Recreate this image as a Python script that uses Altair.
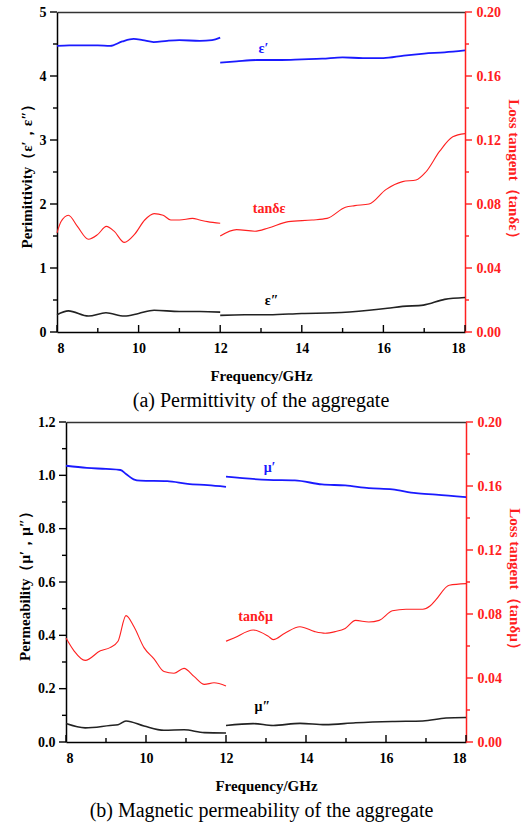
import altair as alt
import pandas as pd

# ---------------- data ----------------
# Panel (a) permittivity
eps1_f_s1 = [8.0, 8.3, 8.7, 9.0, 9.3, 9.6, 9.88, 10.1, 10.37, 10.7, 11.0, 11.5, 11.8, 12.0]
eps1_v_s1 = [4.47, 4.48, 4.48, 4.48, 4.47, 4.54, 4.58, 4.56, 4.53, 4.55, 4.56, 4.55, 4.56, 4.60]
eps1_f_s2 = [12.0, 12.4, 12.9, 13.5, 14.0, 14.5, 15.0, 15.5, 16.0, 16.5, 17.0, 17.5, 18.0]
eps1_v_s2 = [4.21, 4.23, 4.25, 4.25, 4.26, 4.27, 4.29, 4.28, 4.28, 4.32, 4.35, 4.37, 4.40]

eps2_f_s1 = [8.0, 8.28, 8.77, 9.2, 9.65, 10.0, 10.38, 11.0, 11.5, 12.0]
eps2_v_s1 = [0.27, 0.33, 0.25, 0.30, 0.25, 0.29, 0.34, 0.32, 0.32, 0.31]
eps2_f_s2 = [12.0, 12.6, 13.2, 14.0, 14.8, 15.65, 16.1, 16.47, 16.98, 17.5, 18.0]
eps2_v_s2 = [0.26, 0.27, 0.27, 0.29, 0.30, 0.34, 0.37, 0.40, 0.42, 0.51, 0.54]

tane_f_s1 = [8.0, 8.1, 8.28, 8.5, 8.77, 9.0, 9.21, 9.4, 9.65, 9.9, 10.15, 10.38, 10.6, 10.79, 11.0, 11.32, 11.5, 11.69, 12.0]
tane_v_s1 = [0.062, 0.069, 0.073, 0.066, 0.058, 0.061, 0.066, 0.063, 0.056, 0.061, 0.070, 0.074, 0.073, 0.070, 0.070, 0.071, 0.070, 0.069, 0.068]
tane_f_s2 = [12.0, 12.4, 12.85, 13.18, 13.67, 14.25, 14.62, 15.07, 15.3, 15.65, 16.06, 16.47, 16.8, 17.04, 17.38, 17.7, 18.0]
tane_v_s2 = [0.060, 0.064, 0.063, 0.065, 0.069, 0.070, 0.071, 0.078, 0.079, 0.080, 0.089, 0.094, 0.095, 0.100, 0.113, 0.122, 0.124]

# Panel (b) permeability
mu1_f_s1 = [8.0, 8.52, 9.0, 9.36, 9.5, 9.69, 9.86, 10.53, 11.04, 11.54, 12.0]
mu1_v_s1 = [1.036, 1.028, 1.024, 1.020, 1.005, 0.985, 0.980, 0.978, 0.968, 0.963, 0.957]
mu1_f_s2 = [12.0, 13.05, 13.72, 14.4, 14.98, 15.57, 16.16, 16.75, 17.25, 18.0]
mu1_v_s2 = [0.995, 0.983, 0.981, 0.966, 0.962, 0.952, 0.947, 0.933, 0.928, 0.918]

mu2_f_s1 = [8.0, 8.48, 9.1, 9.3, 9.5, 9.95, 10.45, 10.95, 11.46, 12.0]
mu2_v_s1 = [0.069, 0.053, 0.062, 0.065, 0.079, 0.060, 0.044, 0.046, 0.035, 0.034]
mu2_f_s2 = [12.0, 12.68, 13.18, 13.85, 14.48, 15.24, 16.16, 16.92, 17.5, 18.0]
mu2_v_s2 = [0.062, 0.069, 0.062, 0.070, 0.065, 0.072, 0.077, 0.079, 0.090, 0.092]

tanm_f_s1 = [8.0, 8.2, 8.48, 8.86, 9.1, 9.3, 9.5, 9.7, 9.95, 10.2, 10.45, 10.7, 10.95, 11.2, 11.46, 11.7, 12.0]
tanm_v_s1 = [0.065, 0.057, 0.051, 0.057, 0.059, 0.063, 0.079, 0.072, 0.059, 0.052, 0.044, 0.043, 0.046, 0.041, 0.036, 0.037, 0.035]
tanm_f_s2 = [12.0, 12.2, 12.68, 13.06, 13.18, 13.47, 13.85, 14.22, 14.48, 14.73, 14.98, 15.24, 15.57, 15.83, 16.16, 16.5, 16.92, 17.1, 17.25, 17.58, 18.0]
tanm_v_s2 = [0.063, 0.065, 0.070, 0.066, 0.064, 0.068, 0.072, 0.069, 0.068, 0.069, 0.071, 0.076, 0.075, 0.076, 0.082, 0.083, 0.083, 0.085, 0.089, 0.098, 0.099]

# curve labels: text, frequency, value, colour
labels_a_left = [("ε′", 13.06, 4.42, "#1a1aff"), ("ε″", 13.26, 0.48, "black")]
labels_a_right = [("tanδε", 13.2, 0.077, "#ff2020")]
labels_b_left = [("μ′", 13.09, 1.027, "#1a1aff"), ("μ″", 12.91, 0.133, "black")]
labels_b_right = [("tanδμ", 12.74, 0.078, "#ff2020")]

x_ticks = list(range(8, 19))
left_a_ticks = [i * 0.5 for i in range(11)]
left_b_ticks = [round(i * 0.1, 1) for i in range(13)]
right_ticks = [round(i * 0.02, 2) for i in range(11)]

SERIF = "Liberation Serif"
BLUE = "#1a1aff"
RED = "#ff2020"
H = 320
MAJOR, MINOR = 7, 4      # tick lengths in pixels


def seg_df(f1, v1, f2, v2):
    a = pd.DataFrame({"f": f1, "v": v1, "seg": 1})
    b = pd.DataFrame({"f": f2, "v": v2, "seg": 2})
    return pd.concat([a, b], ignore_index=True)


def lab_df(items):
    return pd.DataFrame(items, columns=["t", "f", "v", "c"])


def tick_len(i):
    return MINOR if i % 2 == 1 else MAJOR


def panel(width, inset, left_dom, left_ticks, left_fmt, left_title,
          d1, d2, dt, lab_l, lab_r, right_title, caption):
    xs = alt.Scale(domain=[8, 18], nice=False, range=[inset, width])
    ly = alt.Scale(domain=left_dom, nice=False, zero=False)
    ry = alt.Scale(domain=[0, 0.2], nice=False, zero=False)
    px_per_ghz = (width - inset) / 10.0
    px_per_left = H / (left_dom[1] - left_dom[0])

    x_bottom = alt.X("f:Q", scale=xs, axis=alt.Axis(
        values=x_ticks, labelExpr="datum.value % 2 == 0 ? datum.value : ''",
        ticks=False, title="Frequency/GHz", titlePadding=13, labelPadding=9,
        domainColor="black", domainWidth=1.5))
    x_plain = alt.X("f:Q", scale=xs, axis=None)
    x_top = alt.X("f:Q", scale=xs, axis=alt.Axis(
        orient="top", labels=False, ticks=False, title=None, domain=True,
        domainColor="#333333", domainWidth=1.5))

    major_vals = [v for i, v in enumerate(left_ticks) if i % 2 == 0]
    left_axis = alt.Axis(
        values=left_ticks, offset=-inset, ticks=False,
        labelExpr=f"indexof({major_vals}, datum.value) >= 0 ? format(datum.value, '{left_fmt}') : ''",
        domainColor="black", domainWidth=1.5, labelPadding=MAJOR + 4,
        title=left_title, titlePadding=5,
    )
    right_axis = alt.Axis(
        orient="right", values=right_ticks, ticks=False,
        labelExpr="round(datum.value*50) % 2 == 1 ? '' : format(datum.value, '.2f')",
        domainColor=RED, domainWidth=1.5, labelPadding=MAJOR + 4,
        title=right_title, titleColor=RED, labelColor=RED, titlePadding=5,
    )

    # tick marks drawn as short rules at the tick values
    lt = pd.DataFrame({"v": left_ticks,
                       "x0": [8 - tick_len(i) / px_per_ghz for i in range(len(left_ticks))],
                       "x1": 8.0})
    rt = pd.DataFrame({"v": right_ticks, "x0": 18.0,
                       "x1": [18 + tick_len(i) / px_per_ghz for i in range(len(right_ticks))]})
    bt = pd.DataFrame({"f": x_ticks, "y0": float(left_dom[0]),
                       "y1": [left_dom[0] + tick_len(i) / px_per_left for i in range(len(x_ticks))]})

    l1 = alt.Chart(d1).mark_line(color=BLUE, strokeWidth=1.8, interpolate="monotone").encode(
        x=x_bottom, y=alt.Y("v:Q", scale=ly, axis=left_axis), detail="seg:N")
    l2 = alt.Chart(d2).mark_line(color="#222222", strokeWidth=1.6, interpolate="monotone").encode(
        x=x_bottom, y=alt.Y("v:Q", scale=ly), detail="seg:N")
    tl = alt.Chart(lab_df(lab_l)).mark_text(font=SERIF, fontSize=14, fontWeight="bold").encode(
        x=x_bottom, y=alt.Y("v:Q", scale=ly), text="t:N", color=alt.Color("c:N", scale=None))
    ltick = alt.Chart(lt).mark_rule(color="black", strokeWidth=1.4).encode(
        x=alt.X("x0:Q", scale=xs), x2="x1:Q", y=alt.Y("v:Q", scale=ly))
    btick = alt.Chart(bt).mark_rule(color="black", strokeWidth=1.4).encode(
        x=alt.X("f:Q", scale=xs), y=alt.Y("y0:Q", scale=ly), y2="y1:Q")
    left = alt.layer(l1, l2, tl, ltick, btick)

    r1 = alt.Chart(dt).mark_line(color=RED, strokeWidth=1.1, interpolate="monotone").encode(
        x=x_plain, y=alt.Y("v:Q", scale=ry, axis=right_axis), detail="seg:N")
    tr = alt.Chart(lab_df(lab_r)).mark_text(font=SERIF, fontSize=14, fontWeight="bold").encode(
        x=x_plain, y=alt.Y("v:Q", scale=ry), text="t:N", color=alt.Color("c:N", scale=None))
    rtick = alt.Chart(rt).mark_rule(color=RED, strokeWidth=1.4).encode(
        x=alt.X("x0:Q", scale=xs, axis=None), x2="x1:Q", y=alt.Y("v:Q", scale=ry))
    right = alt.layer(r1, tr, rtick)

    top = alt.Chart(lab_df(lab_r)).mark_point(opacity=0).encode(
        x=x_top, y=alt.Y("v:Q", scale=ry, axis=None))
    return alt.layer(left, right, top).resolve_scale(y="independent").resolve_axis(x="independent").properties(
        width=width, height=H,
        title=alt.TitleParams(caption, orient="bottom", font=SERIF, fontSize=20,
                              fontWeight="normal", offset=8, anchor="middle"),
    )


pa = panel(408, 0, [0, 5], left_a_ticks, "d",
           "Perimittivity（ε′，ε″）",
           seg_df(eps1_f_s1, eps1_v_s1, eps1_f_s2, eps1_v_s2),
           seg_df(eps2_f_s1, eps2_v_s1, eps2_f_s2, eps2_v_s2),
           seg_df(tane_f_s1, tane_v_s1, tane_f_s2, tane_v_s2),
           labels_a_left, labels_a_right, "Loss tangent（tanδε）",
           "(a) Permittivity of the aggregate")

pb = panel(409, 9, [0, 1.2], left_b_ticks, ".1f",
           "Permeability（μ′，μ″）",
           seg_df(mu1_f_s1, mu1_v_s1, mu1_f_s2, mu1_v_s2),
           seg_df(mu2_f_s1, mu2_v_s1, mu2_f_s2, mu2_v_s2),
           seg_df(tanm_f_s1, tanm_v_s1, tanm_f_s2, tanm_v_s2),
           labels_b_left, labels_b_right, "Loss tangent（tanδμ）",
           "(b) Magnetic permeability of the aggregate")

chart = alt.vconcat(pa, pb, spacing=4).properties(
    padding={"left": 17, "top": 5, "right": 2, "bottom": 4},
    background="white",
).configure_view(stroke=None).configure_axis(
    labelFont=SERIF, labelFontSize=14, labelFontWeight="bold", labelColor="black",
    titleFont=SERIF, titleFontSize=15, titleFontWeight="bold", titleColor="black",
    grid=False,
)

chart.save("out.html", embed_options={"renderer": "svg", "actions": False})
